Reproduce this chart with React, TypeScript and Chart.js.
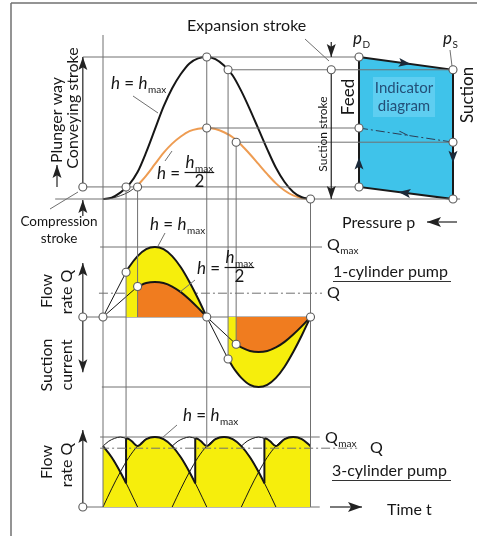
import React, { useEffect, useRef } from "react";
import { Chart, registerables } from "chart.js";

Chart.register(...registerables);

const W = 477;
const H = 536;
const FONT = "Lato, 'Liberation Sans', Arial, sans-serif";

// ---------------- DATA ----------------
// Plunger way h / h_max over crank angle (deg)
const strokeAngles = [0, 15, 30, 45, 60, 75, 90, 105, 120, 135, 150, 165, 180, 195, 210, 225, 240, 255, 270, 285, 300, 315, 330, 345, 360];
const strokeFull = [0, 0.01, 0.045, 0.1, 0.19, 0.33, 0.49, 0.65, 0.78, 0.88, 0.955, 0.99, 1, 0.985, 0.94, 0.87, 0.76, 0.63, 0.49, 0.35, 0.22, 0.12, 0.05, 0.012, 0];
const strokeHalf = [0, 0.005, 0.023, 0.05, 0.095, 0.165, 0.245, 0.325, 0.39, 0.44, 0.478, 0.495, 0.5, 0.493, 0.47, 0.435, 0.38, 0.315, 0.245, 0.175, 0.11, 0.06, 0.025, 0.006, 0];

// 1-cylinder pump: flow rate Q / Q_max over crank angle
const flowAngles = [0, 15, 30, 40, 45, 60, 75, 90, 105, 120, 135, 150, 165, 180, 195, 210, 217, 225, 231, 240, 255, 270, 285, 300, 315, 330, 345, 360];
const flowFull = [0, 0.26, 0.5, 0.64, 0.71, 0.87, 0.97, 1, 0.97, 0.87, 0.71, 0.5, 0.26, 0, -0.26, -0.5, -0.6, -0.71, -0.78, -0.87, -0.97, -1, -0.97, -0.87, -0.71, -0.5, -0.26, 0];
const flowHalf = [0, 0.13, 0.25, 0.32, 0.355, 0.435, 0.485, 0.5, 0.485, 0.435, 0.355, 0.25, 0.13, 0, -0.13, -0.25, -0.3, -0.355, -0.39, -0.435, -0.485, -0.5, -0.485, -0.435, -0.355, -0.25, -0.13, 0];
const deliveryStart = [40, 60]; // [h = hmax, h = hmax/2]
const suctionStart = [217, 231];
const compressionStroke = 0.085;
const expansionStroke = [0.91, 0.4];
const meanFlow1 = 0.34;

// 3-cylinder pump
const humpAngles = [0, 15, 30, 45, 60, 75, 90, 105, 120, 135, 150, 165, 180];
const humpValues = [0, 0.26, 0.5, 0.71, 0.87, 0.97, 1, 0.97, 0.87, 0.71, 0.5, 0.26, 0];
const cylinderStarts = [-120, 0, 120, 240];
const deliveredAngles = [0, 15, 30, 40, 40, 45, 50, 60, 75, 90, 105, 120, 135, 150, 160, 160, 165, 170, 180, 195, 210, 225, 240, 255, 270, 280, 280, 285, 290, 300, 315, 330, 345, 360];
const deliveredValues = [0.87, 0.71, 0.5, 0.34, 0.98, 0.97, 0.94, 0.87, 0.97, 1, 0.97, 0.87, 0.71, 0.5, 0.34, 0.98, 0.97, 0.94, 0.87, 0.97, 1, 0.97, 0.87, 0.71, 0.5, 0.34, 0.98, 0.97, 0.94, 0.87, 0.97, 1, 0.97, 0.87];
const lensAngles = [0, 10, 20, 30, 40];
const lensValues = [0.87, 0.94, 0.98, 1, 0.98];
const lensStarts = [0, 120, 240];
const meanFlow3 = 0.84;

// Indicator diagram (pressure: pS = 0, pD = 1; stroke h / h_max)
const indicatorPressure = [1, 0, 0, 1];
const indicatorStroke = [1, 0.91, 0, 0.085];
const halfLinePressure = [1, 0];
const halfLineStroke = [0.5, 0.4];

// ---------------- helpers ----------------
const valAt = (angles: number[], values: number[], a: number) => values[angles.indexOf(a)];
const pick = (angles: number[], values: number[], lo: number, hi: number) => {
  const out: { x: number; y: number }[] = [];
  angles.forEach((a, i) => {
    if (a >= lo && a <= hi) out.push({ x: a, y: values[i] });
  });
  return out;
};
const splitJumps = (angles: number[], values: number[]) => {
  const segs: { x: number; y: number }[][] = [[]];
  const jumps: { x: number; y: number }[][] = [];
  angles.forEach((a, i) => {
    if (i > 0 && a === angles[i - 1]) {
      jumps.push([{ x: a, y: values[i - 1] }, { x: a, y: values[i] }]);
      segs.push([]);
    }
    segs[segs.length - 1].push({ x: a, y: values[i] });
  });
  return { segs, jumps };
};

function axisRange(v0: number, p0: number, v1: number, p1: number, size: number, horizontal: boolean) {
  const k = (v1 - v0) / (p1 - p0);
  const a = v0 - p0 * k;
  const b = v0 + (size - p0) * k;
  if (horizontal) return a < b ? { min: a, max: b, reverse: false } : { min: b, max: a, reverse: true };
  return a > b ? { min: b, max: a, reverse: false } : { min: a, max: b, reverse: true };
}

const YELLOW = "#f6ee0c";
const ORANGE = "#f07c1f";
const CYAN = "#3fc3ea";
const INK = "#161616";
const GUIDE = "#707070";

function seg(ctx: CanvasRenderingContext2D, x0: number, y0: number, x1: number, y1: number) {
  ctx.beginPath();
  ctx.moveTo(x0, y0);
  ctx.lineTo(x1, y1);
  ctx.stroke();
}
function head(ctx: CanvasRenderingContext2D, x: number, y: number, ang: number, len = 13, half = 4.5) {
  ctx.save();
  ctx.translate(x, y);
  ctx.rotate(ang);
  ctx.beginPath();
  ctx.moveTo(0, 0);
  ctx.lineTo(-len, -half);
  ctx.lineTo(-len * 0.78, 0);
  ctx.lineTo(-len, half);
  ctx.closePath();
  ctx.fill();
  ctx.restore();
}
function arrow(ctx: CanvasRenderingContext2D, x0: number, y0: number, x1: number, y1: number, len = 13, half = 4.5) {
  seg(ctx, x0, y0, x1, y1);
  head(ctx, x1, y1, Math.atan2(y1 - y0, x1 - x0), len, half);
}
function vtext(ctx: CanvasRenderingContext2D, t: string, cx: number, cy: number, size: number) {
  ctx.save();
  ctx.translate(cx, cy);
  ctx.rotate(-Math.PI / 2);
  ctx.font = `${size}px ${FONT}`;
  ctx.textAlign = "center";
  ctx.textBaseline = "middle";
  ctx.fillText(t, 0, 0);
  ctx.restore();
}
function text(ctx: CanvasRenderingContext2D, t: string, x: number, y: number, size: number, italic = false) {
  ctx.font = `${italic ? "italic " : ""}${size}px ${FONT}`;
  ctx.fillText(t, x, y);
  return ctx.measureText(t).width;
}
function hSub(ctx: CanvasRenderingContext2D, x: number, y: number, main: string, sub: string, italic = true, size = 17) {
  const w = text(ctx, main, x, y, size, italic);
  const w2 = text(ctx, sub, x + w + 0.5, y + 4, 10);
  return w + w2 + 0.5;
}
function hEqMax(ctx: CanvasRenderingContext2D, x: number, y: number) {
  let cx = x;
  cx += text(ctx, "h", cx, y, 17, true);
  cx += text(ctx, " = ", cx, y, 17);
  hSub(ctx, cx, y, "h", "max");
}
function hEqHalf(ctx: CanvasRenderingContext2D, x: number, y: number) {
  let cx = x;
  cx += text(ctx, "h", cx, y, 17, true);
  cx += text(ctx, " = ", cx, y, 17);
  const fw = hSub(ctx, cx + 1, y - 11, "h", "max");
  ctx.lineWidth = 1.2;
  seg(ctx, cx, y - 6.5, cx + fw + 2, y - 6.5);
  ctx.textAlign = "center";
  text(ctx, "2", cx + fw / 2 + 1, y + 8, 17);
  ctx.textAlign = "left";
}

const overlay = {
  id: "overlay",
  beforeDatasetsDraw(chart: any) {
    const ctx: CanvasRenderingContext2D = chart.ctx;
    const s = chart.scales;
    const X = (v: number) => s.xt.getPixelForValue(v);
    const Y1 = (v: number) => s.yq1.getPixelForValue(v);
    const Y3 = (v: number) => s.yq3.getPixelForValue(v);
    ctx.save();
    ctx.fillStyle = "#fff";
    ctx.fillRect(0, 0, W, H);
    ctx.strokeStyle = "#707070";
    ctx.lineWidth = 1.5;
    seg(ctx, 11, 3, 11, H);
    seg(ctx, 11, 3, W, 3);
    ctx.strokeStyle = GUIDE;
    ctx.lineWidth = 1;
    seg(ctx, X(-5), Y1(1), X(380), Y1(1));
    seg(ctx, X(-35), Y1(0), X(360), Y1(0));
    seg(ctx, X(-2), Y1(-1), X(360), Y1(-1));
    ctx.setLineDash([9, 3, 2, 3]);
    seg(ctx, X(-7), Y1(meanFlow1), X(380), Y1(meanFlow1));
    ctx.setLineDash([]);
    seg(ctx, X(-5), Y3(1), X(376), Y3(1));
    seg(ctx, X(-35), Y3(0), X(376), Y3(0));
    ctx.restore();
  },
  afterDatasetsDraw(chart: any) {
    const ctx: CanvasRenderingContext2D = chart.ctx;
    const s = chart.scales;
    const X = (v: number) => s.xt.getPixelForValue(v);
    const XP = (v: number) => s.xp.getPixelForValue(v);
    const YH = (v: number) => s.yh.getPixelForValue(v);
    const Y1 = (v: number) => s.yq1.getPixelForValue(v);
    const Y3 = (v: number) => s.yq3.getPixelForValue(v);
    const top = strokeFull[strokeAngles.indexOf(180)];
    ctx.save();
    ctx.strokeStyle = GUIDE;
    ctx.lineWidth = 1;
    // plunger-way levels
    seg(ctx, X(-35), YH(top), XP(1), YH(top));
    seg(ctx, X(suctionStart[0]), YH(expansionStroke[0]), XP(0), YH(expansionStroke[0]));
    seg(ctx, X(180), YH(top / 2), XP(1), YH(top / 2));
    seg(ctx, X(suctionStart[1]), YH(expansionStroke[1]), XP(0), YH(expansionStroke[1]));
    seg(ctx, X(-35), YH(compressionStroke), XP(1), YH(compressionStroke));
    seg(ctx, X(-83), YH(0), XP(-0.075), YH(0));
    // verticals
    seg(ctx, X(0), YH(1.155), X(0), Y3(0));
    seg(ctx, X(deliveryStart[0]), YH(compressionStroke), X(deliveryStart[0]), Y3(1));
    seg(ctx, X(deliveryStart[1]), YH(compressionStroke), X(deliveryStart[1]), Y1(0));
    seg(ctx, X(180), YH(top), X(180), Y3(meanFlow3));
    seg(ctx, X(suctionStart[0]), YH(expansionStroke[0]), X(suctionStart[0]), Y1(valAt(flowAngles, flowFull, suctionStart[0])));
    seg(ctx, X(suctionStart[1]), YH(expansionStroke[1]), X(suctionStart[1]), Y1(valAt(flowAngles, flowHalf, suctionStart[1])));
    seg(ctx, X(360), YH(0), X(360), Y3(0));
    ctx.setLineDash([9, 3, 2, 3]);
    seg(ctx, X(-5), Y3(meanFlow3), X(441), Y3(meanFlow3));
    ctx.setLineDash([]);
    // leaders
    seg(ctx, 305, 39, 329, 61);
    seg(ctx, 133, 96, 158, 113);
    seg(ctx, 165, 161, 172, 151);
    seg(ctx, 50, 209, 78, 192);
    seg(ctx, 165, 233, 158, 246);
    seg(ctx, 180, 292, 195, 280);
    seg(ctx, 177, 425, 162, 438);
    seg(ctx, 450, 50, 452, 66);

    // arrows
    ctx.strokeStyle = "#222";
    ctx.fillStyle = "#222";
    ctx.lineWidth = 1.2;
    arrow(ctx, X(-35), YH(compressionStroke) - 4, X(-35), YH(top));
    arrow(ctx, 57, 187, 57, 165);
    arrow(ctx, X(-35), 216, X(-35), YH(0) + 1);
    arrow(ctx, X(396), 42, X(396), YH(top));
    arrow(ctx, X(396), YH(expansionStroke[0]) + 4, X(396), YH(0));
    arrow(ctx, X(-35), Y1(0) - 4, X(-35), Y1(0.77));
    arrow(ctx, X(-35), Y1(0) + 4, X(-35), Y1(-0.79));
    arrow(ctx, X(-35), Y3(0) - 4, X(-35), Y3(1.1));
    arrow(ctx, 457, 222, 427, 222, 14, 5);
    arrow(ctx, 330, Y3(0), 362, Y3(0), 14, 5);
    // indicator-edge arrows
    ctx.fillStyle = "#1b2a3a";
    const mid = (p0: number, h0: number, p1: number, h1: number, f = 0.5) => [
      XP(p0) + (XP(p1) - XP(p0)) * f,
      YH(h0) + (YH(h1) - YH(h0)) * f,
      Math.atan2(YH(h1) - YH(h0), XP(p1) - XP(p0)),
    ];
    let m = mid(1, 1, 0, 0.91, 0.55);
    head(ctx, m[0], m[1], m[2], 12, 4.5);
    m = mid(0, 0, 1, 0.085, 0.58);
    head(ctx, m[0], m[1], m[2], 12, 4.5);
    m = mid(1, 0.085, 1, 0.5, 0.5);
    head(ctx, m[0], m[1], m[2], 12, 4.5);
    m = mid(0, 0.91, 0, 0, 0.72);
    head(ctx, m[0], m[1], m[2], 12, 4.5);
    // open chevron on dashed half-stroke line
    m = mid(1, 0.5, 0, 0.4, 0.52);
    ctx.save();
    ctx.translate(m[0], m[1]);
    ctx.rotate(m[2]);
    ctx.strokeStyle = "#2b3d55";
    ctx.lineWidth = 1;
    seg(ctx, -9, -3, 0, 0);
    ctx.restore();

    // texts
    ctx.fillStyle = INK;
    ctx.strokeStyle = INK;
    ctx.textAlign = "left";
    ctx.textBaseline = "alphabetic";
    text(ctx, "Expansion stroke", 187, 31, 16);
    vtext(ctx, "Plunger way", 57, 120, 16);
    vtext(ctx, "Conveying stroke", 73, 108, 16);
    hEqMax(ctx, 111, 89);
    hEqHalf(ctx, 157, 179);
    ctx.textAlign = "center";
    text(ctx, "Compression", 59, 226, 13.5);
    text(ctx, "stroke", 59, 243, 13.5);
    ctx.textAlign = "left";
    vtext(ctx, "Suction stroke", 323, 134, 12);
    // p_D / p_S
    hSub(ctx, 353, 44, "p", "D");
    hSub(ctx, 443, 44, "p", "S");
    // indicator labels
    ctx.fillStyle = "rgba(120,215,245,0.55)";
    ctx.fillRect(373, 77, 62, 40);
    ctx.fillStyle = "#234f78";
    ctx.textAlign = "center";
    text(ctx, "Indicator", 404, 93, 15);
    text(ctx, "diagram", 404, 111, 15);
    ctx.textAlign = "left";
    ctx.fillStyle = INK;
    vtext(ctx, "Feed", 349, 97, 17);
    vtext(ctx, "Suction", 468, 95, 17);
    text(ctx, "Pressure p", 342, 228, 16);
    // flow panel 1
    hSub(ctx, 327, 250, "Q", "max", false, 16);
    text(ctx, "1-cylinder pump", 333, 277, 16);
    ctx.lineWidth = 1;
    ctx.strokeStyle = "#333";
    seg(ctx, 333, 281.5, 451, 281.5);
    text(ctx, "Q", 327, 298, 16);
    vtext(ctx, "Flow", 47, 291, 16);
    vtext(ctx, "rate Q", 67, 292, 16);
    vtext(ctx, "Suction", 47, 365, 16);
    vtext(ctx, "current", 67, 365, 16);
    ctx.strokeStyle = INK;
    hEqMax(ctx, 150, 230);
    hEqHalf(ctx, 197, 274);
    // 3-cylinder panel
    hEqMax(ctx, 183, 421);
    hSub(ctx, 325, 443, "Q", "max", false, 16);
    text(ctx, "Q", 370, 453, 16);
    text(ctx, "3-cylinder pump", 332, 476, 16);
    ctx.strokeStyle = "#333";
    seg(ctx, 332, 480.5, 451, 480.5);
    text(ctx, "Time t", 387, 515, 16);
    vtext(ctx, "Flow", 47, 462, 16);
    vtext(ctx, "rate Q", 67, 465, 16);

    // circle markers
    const circ = (x: number, y: number) => {
      ctx.beginPath();
      ctx.arc(x, y, 4, 0, Math.PI * 2);
      ctx.fillStyle = "#fff";
      ctx.fill();
      ctx.strokeStyle = "#5a5a5a";
      ctx.lineWidth = 1.1;
      ctx.stroke();
    };
    circ(X(-35), YH(compressionStroke));
    circ(X(deliveryStart[0]), YH(compressionStroke));
    circ(X(deliveryStart[1]), YH(compressionStroke));
    circ(X(180), YH(top));
    circ(X(180), YH(top / 2));
    circ(X(suctionStart[0]), YH(expansionStroke[0]));
    circ(X(suctionStart[1]), YH(expansionStroke[1]));
    circ(X(360), YH(0));
    circ(X(396), YH(expansionStroke[0]));
    indicatorPressure.forEach((p, i) => circ(XP(p), YH(indicatorStroke[i])));
    halfLinePressure.forEach((p, i) => circ(XP(p), YH(halfLineStroke[i])));
    circ(X(-35), Y1(0));
    circ(X(0), Y1(0));
    circ(X(deliveryStart[0]), Y1(valAt(flowAngles, flowFull, deliveryStart[0])));
    circ(X(deliveryStart[1]), Y1(valAt(flowAngles, flowHalf, deliveryStart[1])));
    circ(X(180), Y1(0));
    circ(X(suctionStart[0]), Y1(valAt(flowAngles, flowFull, suctionStart[0])));
    circ(X(suctionStart[1]), Y1(valAt(flowAngles, flowHalf, suctionStart[1])));
    circ(X(360), Y1(0));
    circ(X(-35), Y3(0));
    ctx.restore();
  },
};

function buildDatasets() {
  const ds: any[] = [];
  const base = {
    type: "line",
    pointRadius: 0,
    borderColor: INK,
    borderWidth: 1,
    fill: false,
    tension: 0,
    xAxisID: "xt",
    yAxisID: "yh",
  };
  // indicator diagram
  const poly = indicatorPressure.map((p, i) => ({ x: p, y: indicatorStroke[i] }));
  ds.push({ ...base, data: [...poly, poly[0]], xAxisID: "xp", fill: "shape", backgroundColor: CYAN, borderColor: "#1a1a1a", borderWidth: 2, order: 30 });
  ds.push({ ...base, data: halfLinePressure.map((p, i) => ({ x: p, y: halfLineStroke[i] })), xAxisID: "xp", borderColor: "#2b3d55", borderDash: [9, 3, 2, 3], order: 29 });
  // plunger way
  ds.push({ ...base, data: pick(strokeAngles, strokeFull, 0, 360), borderWidth: 2, cubicInterpolationMode: "monotone", order: 20 });
  ds.push({ ...base, data: pick(strokeAngles, strokeHalf, 0, 60), borderColor: "#444", cubicInterpolationMode: "monotone", order: 21 });
  ds.push({ ...base, data: pick(strokeAngles, strokeHalf, 60, 360), borderColor: "#ee9c52", borderWidth: 2, cubicInterpolationMode: "monotone", order: 21 });
  // 1-cylinder flow
  const fillSet = (data: any, color: string, order: number) => ({
    ...base, data, yAxisID: "yq1", fill: "origin", backgroundColor: color, borderWidth: 2, cubicInterpolationMode: "monotone", order,
  });
  ds.push(fillSet(pick(flowAngles, flowFull, deliveryStart[0], 180), YELLOW, 18));
  ds.push(fillSet(pick(flowAngles, flowHalf, deliveryStart[1], 180), ORANGE, 17));
  ds.push(fillSet(pick(flowAngles, flowFull, suctionStart[0], 360), YELLOW, 18));
  ds.push(fillSet(pick(flowAngles, flowHalf, suctionStart[1], 360), ORANGE, 17));
  const chord = (a0: number, a1: number, vals: number[]) => ({
    ...base, yAxisID: "yq1", order: 16,
    data: [{ x: a0, y: valAt(flowAngles, vals, a0) }, { x: a1, y: valAt(flowAngles, vals, a1) }],
  });
  ds.push(chord(0, deliveryStart[0], flowFull));
  ds.push(chord(0, deliveryStart[1], flowHalf));
  ds.push(chord(180, suctionStart[0], flowFull));
  ds.push(chord(180, suctionStart[1], flowHalf));
  // 3-cylinder flow: seamless base fill, then smooth segments on top
  ds.push({
    ...base, data: deliveredAngles.map((a, i) => ({ x: a, y: deliveredValues[i] })), yAxisID: "yq3",
    fill: "origin", backgroundColor: YELLOW, borderWidth: 0, borderColor: "rgba(0,0,0,0)", order: 13,
  });
  const { segs, jumps } = splitJumps(deliveredAngles, deliveredValues);
  segs.forEach((d) => ds.push({ ...base, data: d, yAxisID: "yq3", fill: "origin", backgroundColor: YELLOW, borderWidth: 2, cubicInterpolationMode: "monotone", order: 12 }));
  jumps.forEach((d) => ds.push({ ...base, data: d, yAxisID: "yq3", borderWidth: 2, order: 9 }));
  cylinderStarts.forEach((st) => {
    const d = humpAngles
      .map((a, i) => ({ x: a + st, y: humpValues[i] }))
      .filter((p) => p.x >= 0 && p.x <= 360);
    ds.push({ ...base, data: d, yAxisID: "yq3", cubicInterpolationMode: "monotone", order: 10 });
  });
  lensStarts.forEach((st) => {
    ds.push({ ...base, data: lensAngles.map((a, i) => ({ x: a + st, y: lensValues[i] })), yAxisID: "yq3", cubicInterpolationMode: "monotone", order: 10 });
  });
  return ds;
}

export default function App() {
  const ref = useRef<HTMLCanvasElement>(null);
  useEffect(() => {
    if (!ref.current) return;
    const hidden = { type: "linear", display: false, bounds: "data" };
    const chart = new Chart(ref.current, {
      type: "line",
      data: { datasets: buildDatasets() },
      options: {
        animation: false,
        responsive: false,
        events: [],
        layout: { padding: 0 },
        plugins: { legend: { display: false }, tooltip: { enabled: false } },
        scales: {
          xt: { ...hidden, axis: "x", position: "bottom", ...axisRange(0, 103, 360, 310.5, W, true) },
          xp: { ...hidden, axis: "x", position: "top", ...axisRange(0, 453, 1, 359, W, true) },
          yh: { ...hidden, axis: "y", position: "left", ...axisRange(0, 199, 1, 57, H, false) },
          yq1: { ...hidden, axis: "y", position: "left", ...axisRange(0, 317, 1, 247, H, false) },
          yq3: { ...hidden, axis: "y", position: "right", ...axisRange(0, 507, 1, 437, H, false) },
        },
      } as any,
      plugins: [overlay],
    } as any);
    return () => chart.destroy();
  }, []);
  return (
    <div style={{ position: "absolute", left: 0, top: 0, width: W, height: H, background: "#fff" }}>
      <canvas ref={ref} width={W} height={H} style={{ display: "block" }} />
    </div>
  );
}
